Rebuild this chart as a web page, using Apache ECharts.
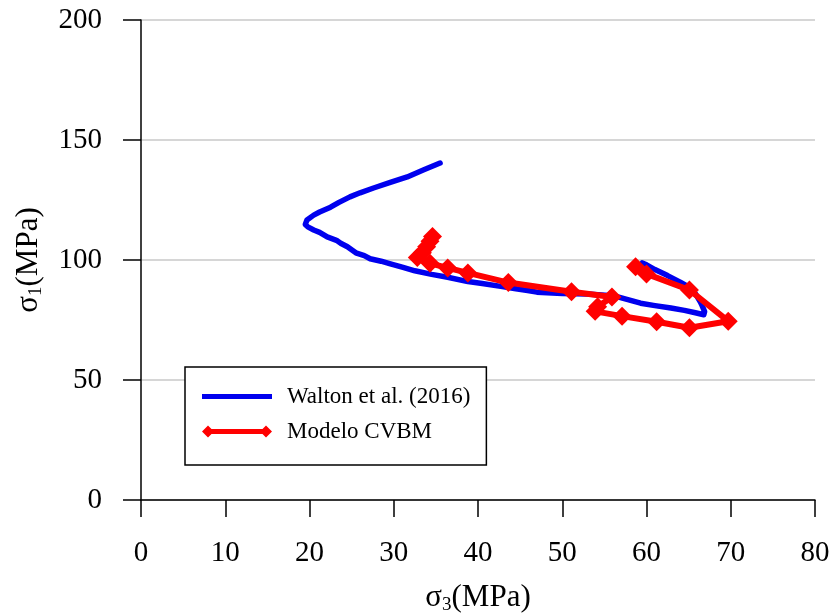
<!DOCTYPE html>
<html>
<head>
<meta charset="utf-8">
<script src="https://cdn.jsdelivr.net/npm/echarts@6/dist/echarts.min.js"></script>
<style>
  html, body { margin: 0; padding: 0; background: #fff; }
  #chart { width: 829px; height: 615px; }
</style>
</head>
<body>
<div id="chart"></div>
<script>
// σ3 / σ1 stress path, MPa
const waltonSigma3 = [35.5, 33.5, 31.6, 29.5, 27.6, 26.0, 24.8, 23.5, 22.5, 21.2, 20.5, 19.7, 19.5, 19.8, 20.5, 21.2, 22.1, 23.2, 23.7, 24.5, 25.5, 26.5, 27.2, 28.5, 29.5, 31.0, 32.5, 34.5, 36.4, 38.8, 40.5, 42.7, 44.5, 45.9, 47.0, 50.0, 53.0, 55.5, 56.6, 58.0, 59.3, 61.0, 62.9, 64.5, 65.8, 66.8, 66.9, 66.6, 66.4, 65.8, 65.0, 64.0, 62.5, 61.0, 60.0, 59.5];
const waltonSigma1 = [140.4, 137.5, 134.6, 132.2, 130.0, 128.0, 126.3, 124.0, 122.0, 120.0, 118.7, 116.7, 114.8, 113.8, 112.5, 111.5, 109.6, 108.2, 107.0, 105.5, 103.0, 101.8, 100.5, 99.5, 98.5, 97.0, 95.5, 94.0, 92.8, 91.0, 90.2, 89.0, 88.0, 87.3, 86.6, 86.0, 85.8, 85.2, 84.6, 83.3, 82.0, 81.0, 80.0, 79.0, 78.0, 77.2, 78.5, 81.0, 82.5, 86.0, 88.8, 90.8, 93.5, 96.0, 98.0, 98.8];

const cvbmSigma3 = [34.6, 34.3, 33.9, 33.4, 32.8, 34.3, 36.4, 38.8, 43.6, 51.1, 55.9, 54.2, 53.9, 57.1, 61.2, 65.1, 69.7, 65.1, 60.0, 58.7];
const cvbmSigma1 = [109.8, 107.8, 105.5, 103.0, 101.0, 98.6, 96.7, 94.6, 90.6, 86.8, 84.6, 80.5, 78.6, 76.6, 74.3, 71.8, 74.5, 87.5, 94.2, 97.2];

const xTicks = { min: 0, max: 80, interval: 10 };
const yTicks = { min: 0, max: 200, interval: 50 };

const seriesNames = ['Walton et al. (2016)', 'Modelo CVBM'];

const pairs = (xs, ys) => xs.map((x, i) => [x, ys[i]]);

const FONT = 'Liberation Serif';

const chart = echarts.init(document.getElementById('chart'), null, { renderer: 'canvas' });

// axis titles: sigma with a lowered index
const nameRich = {
  a: { fontFamily: FONT, fontSize: 31, color: '#000' },
  s: { fontFamily: FONT, fontSize: 19, color: '#000', padding: [15, 0, 0, 0] }
};

chart.setOption({
  animation: false,
  backgroundColor: '#fff',
  grid: { left: 141, right: 14, top: 20, bottom: 115, containLabel: false, outerBoundsMode: 'none' },
  xAxis: {
    type: 'value',
    min: xTicks.min, max: xTicks.max, interval: xTicks.interval,
    name: '{a|σ}{s|3}{a|(MPa)}',
    nameLocation: 'middle',
    nameGap: 81,
    nameTextStyle: { rich: nameRich },
    axisLine: { show: true, onZero: false, lineStyle: { color: '#000', width: 1.5 } },
    axisTick: { show: true, inside: false, length: 17, lineStyle: { color: '#000', width: 1.5 } },
    axisLabel: { margin: 39, fontFamily: FONT, fontSize: 29, color: '#000' },
    splitLine: { show: false }
  },
  yAxis: {
    type: 'value',
    min: yTicks.min, max: yTicks.max, interval: yTicks.interval,
    name: '{a|σ}{s|1}{a|(MPa)}',
    nameLocation: 'middle',
    nameGap: 95,
    nameTextStyle: { rich: nameRich },
    axisLine: { show: true, onZero: false, lineStyle: { color: '#000', width: 1.5 } },
    axisTick: { show: true, inside: false, length: 18, lineStyle: { color: '#000', width: 1.5 } },
    axisLabel: { margin: 39, fontFamily: FONT, fontSize: 29, color: '#000' },
    splitLine: { show: true, lineStyle: { color: '#c8c8c8', width: 1.5 } }
  },
  legend: {
    orient: 'vertical',
    left: 185, top: 367,
    padding: [18, 16, 22, 17],
    itemGap: 12,
    itemWidth: 70, itemHeight: 12,
    borderColor: '#000', borderWidth: 1.5,
    backgroundColor: '#fff',
    textStyle: { fontFamily: FONT, fontSize: 23, color: '#000', padding: [0, 0, 0, 10] },
    data: [
      { name: seriesNames[0], icon: 'path://M0,3.5H70V8.5H0Z' },
      { name: seriesNames[1], icon: 'path://M0,6L6,0L12,6L6,12ZM6,3.5H64V8.5H6ZM58,6L64,0L70,6L64,12Z' }
    ]
  },
  series: [
    {
      name: seriesNames[0],
      type: 'line',
      data: pairs(waltonSigma3, waltonSigma1),
      showSymbol: false,
      symbol: 'none',
      smooth: false,
      lineStyle: { color: '#0000ee', width: 5.5, cap: 'round', join: 'round' },
      itemStyle: { color: '#0000ee' },
      z: 2
    },
    {
      name: seriesNames[1],
      type: 'line',
      data: pairs(cvbmSigma3, cvbmSigma1),
      symbol: 'diamond',
      symbolSize: 19,
      showAllSymbol: true,
      lineStyle: { color: '#ff0000', width: 6, join: 'round' },
      itemStyle: { color: '#ff0000' },
      z: 3
    }
  ]
});
</script>
</body>
</html>
